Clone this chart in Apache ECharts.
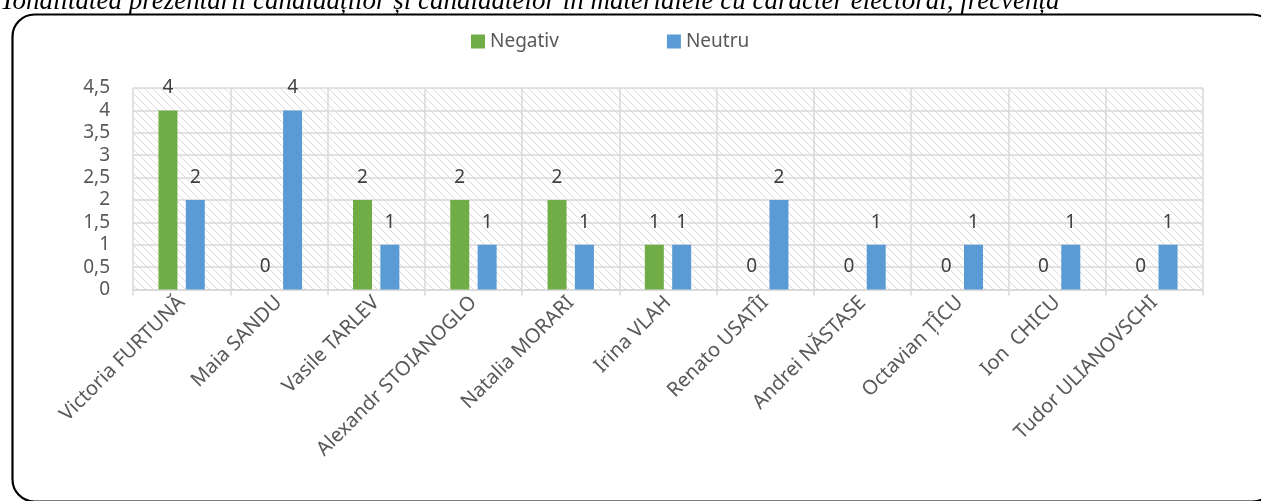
<!DOCTYPE html>
<html>
<head>
<meta charset="utf-8">
<script src="https://cdn.jsdelivr.net/npm/echarts@6/dist/echarts.min.js"></script>
<style>
html,body{margin:0;padding:0;background:#fff;}
#chart{width:1261px;height:501px;}
</style>
</head>
<body>
<div id="chart"></div>
<script>
const titleText = 'Tonalitatea prezentării candidaților și candidatelor în materialele cu caracter electoral, frecvența';
const categories = ['Victoria FURTUNĂ','Maia SANDU','Vasile TARLEV','Alexandr STOIANOGLO','Natalia MORARI','Irina VLAH','Renato USATÎI','Andrei NĂSTASE','Octavian ȚÎCU','Ion  CHICU','Tudor ULIANOVSCHI'];
const seriesNames = ['Negativ','Neutru'];
const negativValues = [4,0,2,2,2,1,0,0,0,0,0];
const neutruValues = [2,4,1,1,1,1,2,1,1,1,1];
const yMin = 0, yMax = 4.5, yStep = 0.5;

// hatch pattern
const pc = document.createElement('canvas');
pc.width = 8; pc.height = 8;
const px = pc.getContext('2d');
px.fillStyle = '#ffffff';
px.fillRect(0,0,8,8);
px.fillStyle = '#dadada';
for (let i = 0; i < 8; i++) { px.fillRect(i, i, 1, 1); }
const hatch = {image: pc, repeat: 'repeat'};

const chart = echarts.init(document.getElementById('chart'));
const font = '"Noto Sans", "Open Sans", sans-serif';
chart.setOption({
  animation: false,
  backgroundColor: '#ffffff',
  graphic: [
    {type: 'rect', left: 10, top: 12, shape: {x: 0, y: 0, width: 1262, height: 487, r: 22},
     style: {fill: 'none', stroke: '#000', lineWidth: 2.2}, z: 0},
    {type: 'text', left: 0, top: -12, style: {text: titleText, font: 'italic 27px "Liberation Serif", "DejaVu Serif", serif', fill: '#000'}, z: 5}
  ],
  legend: {
    left: 471, top: 32, padding: 0,
    itemWidth: 14, itemHeight: 14, itemGap: 108,
    icon: 'rect',
    textStyle: {color: '#595959', fontSize: 19, fontFamily: font, padding: [0,0,0,0]},
    data: seriesNames
  },
  grid: {left: 133, top: 88, width: 1070, height: 201.5, show: true, backgroundColor: hatch, borderWidth: 0, containLabel: false},
  xAxis: {
    type: 'category', data: categories, boundaryGap: true,
    axisLine: {show: true, lineStyle: {color: '#d9d9d9', width: 1.5}},
    axisTick: {show: true, length: 6, lineStyle: {color: '#d9d9d9', width: 1.5}},
    splitLine: {show: true, interval: 0, lineStyle: {color: '#d9d9d9', width: 1.5}},
    axisLabel: {interval: 0, rotate: 45, margin: 10, color: '#595959', fontSize: 20, fontFamily: font}
  },
  yAxis: {
    type: 'value', min: yMin, max: yMax, interval: yStep,
    axisLine: {show: false}, axisTick: {show: false},
    splitLine: {show: true, lineStyle: {color: '#d9d9d9', width: 1.5}},
    axisLabel: {margin: 23, color: '#595959', fontSize: 19, fontFamily: font,
      formatter: v => String(v).replace('.', ',')}
  },
  series: [
    {name: seriesNames[0], type: 'bar', data: negativValues, barWidth: 19, barGap: '44%',
     itemStyle: {color: '#70AD47'},
     label: {show: true, position: 'top', distance: 13, color: '#404040', fontSize: 19, fontFamily: font}},
    {name: seriesNames[1], type: 'bar', data: neutruValues, barWidth: 19,
     itemStyle: {color: '#5B9BD5'},
     label: {show: true, position: 'top', distance: 13, color: '#404040', fontSize: 19, fontFamily: font}}
  ]
});
</script>
</body>
</html>
